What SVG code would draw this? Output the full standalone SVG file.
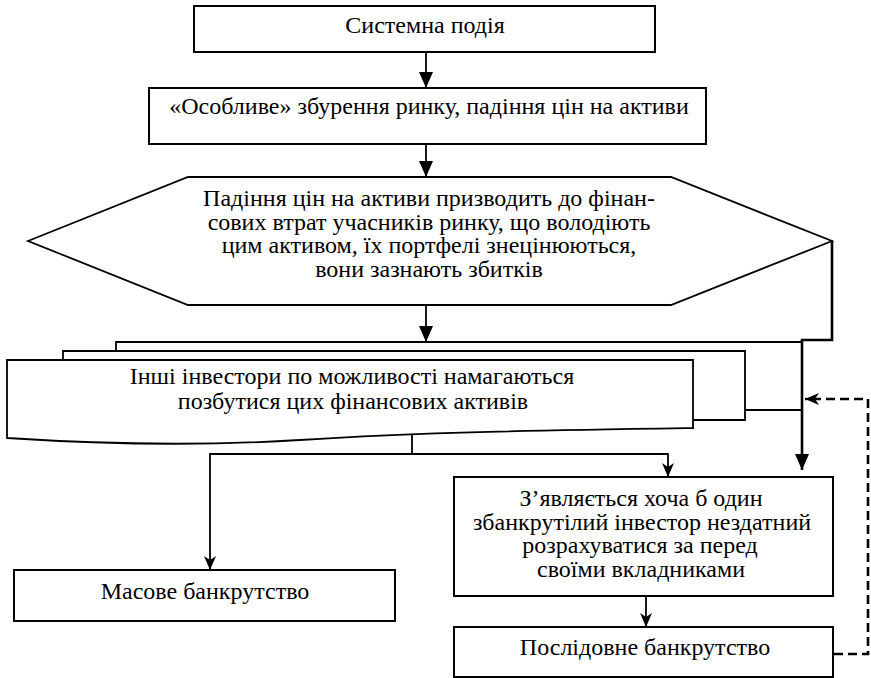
<svg xmlns="http://www.w3.org/2000/svg" width="871" height="678" viewBox="0 0 871 678">
<style>
  .box { fill: #fff; stroke: #000; stroke-width: 2; }
  .shape { fill: #fff; stroke: #000; stroke-width: 1.8; stroke-linejoin: miter; }
  .open { fill: none; stroke: #000; stroke-width: 1.8; }
  .t { font-family: "Liberation Serif", "Times New Roman", serif; font-size: 24px; fill: #000; text-anchor: middle; }
  .c { fill: none; stroke: #000; stroke-width: 1.8; }
  .ct { fill: none; stroke: #000; stroke-width: 2.6; }
  .dash { fill: none; stroke: #000; stroke-width: 2.6; stroke-dasharray: 9 5; }
</style>
<defs>
  <marker id="tri" viewBox="0 0 16 14" refX="16" refY="7" markerWidth="16" markerHeight="14" markerUnits="userSpaceOnUse" orient="auto">
    <path d="M0,0 L16,7 L0,14 z" fill="#000"/>
  </marker>
  <marker id="barb" viewBox="0 0 14 12" refX="14" refY="6" markerWidth="14" markerHeight="12" markerUnits="userSpaceOnUse" orient="auto">
    <path d="M0,0 L14,6 L0,12 L4,6 z" fill="#000"/>
  </marker>
</defs>
<rect width="871" height="678" fill="#fff"/>

<g id="connectors">
  <line class="c" x1="426" y1="52" x2="426" y2="88" marker-end="url(#tri)"/>
  <line class="c" x1="426" y1="144" x2="426" y2="177" marker-end="url(#tri)"/>
  <line class="c" x1="426" y1="305" x2="426" y2="342" marker-end="url(#tri)"/>
  <path class="ct" d="M832,241 V340 H802 V470" marker-end="url(#tri)"/>
  <path class="c" d="M412,434 V454 H210 V570" marker-end="url(#barb)"/>
  <path class="c" d="M412,454 H668 V477" marker-end="url(#barb)"/>
  <line class="c" x1="646" y1="596" x2="646" y2="627" marker-end="url(#barb)"/>
  <path class="dash" d="M834,654 H868 V399 H805" marker-end="url(#barb)"/>
</g>

<g id="system-event">
  <rect class="box" x="194" y="6" width="461" height="46"/>
  <text class="t" x="425" y="33">Системна подія</text>
</g>

<g id="market-shock">
  <rect class="box" x="149" y="88" width="557" height="56"/>
  <text class="t" x="429" y="114">«Особливе» збурення ринку, падіння цін на активи</text>
</g>

<g id="price-fall">
  <polygon class="shape" points="28,241 188,177 671,177 832,241 671,305 188,305"/>
  <text class="t" x="429" y="206">Падіння цін на активи призводить до фінан-</text>
  <text class="t" x="429" y="229.5">сових втрат учасників ринку, що володіють</text>
  <text class="t" x="429" y="253">цим активом, їх портфелі знецінюються,</text>
  <text class="t" x="429" y="276.5">вони зазнають збитків</text>
</g>

<g id="other-investors">
  <path class="open" d="M116,351 V342 H802 V410 H745" stroke-width="1.4"/>
  <path class="open" d="M63,360 V351 H745 V420 H693" stroke-width="2"/>
  <path class="shape" d="M7,360 H693 V428 C560,430 420,432 300,440 C220,445 130,446 7,438 Z" stroke-width="2"/>
  <text class="t" x="352" y="384">Інші інвестори по можливості намагаються</text>
  <text class="t" x="353" y="409">позбутися цих фінансових активів</text>
</g>

<g id="mass-bankruptcy">
  <rect class="box" x="14" y="570" width="381" height="51"/>
  <text class="t" x="205" y="599">Масове банкрутство</text>
</g>

<g id="bankrupt-investor">
  <rect class="box" x="454" y="477" width="379" height="119"/>
  <text class="t" x="641" y="506">З’являється хоча б один</text>
  <text class="t" x="642" y="529.5">збанкрутілий інвестор нездатний</text>
  <text class="t" x="640" y="553">розрахуватися за перед</text>
  <text class="t" x="641" y="577">своїми вкладниками</text>
</g>

<g id="sequential-bankruptcy">
  <rect class="box" x="454" y="627" width="379" height="50"/>
  <text class="t" x="645" y="655">Послідовне банкрутство</text>
</g>
</svg>
